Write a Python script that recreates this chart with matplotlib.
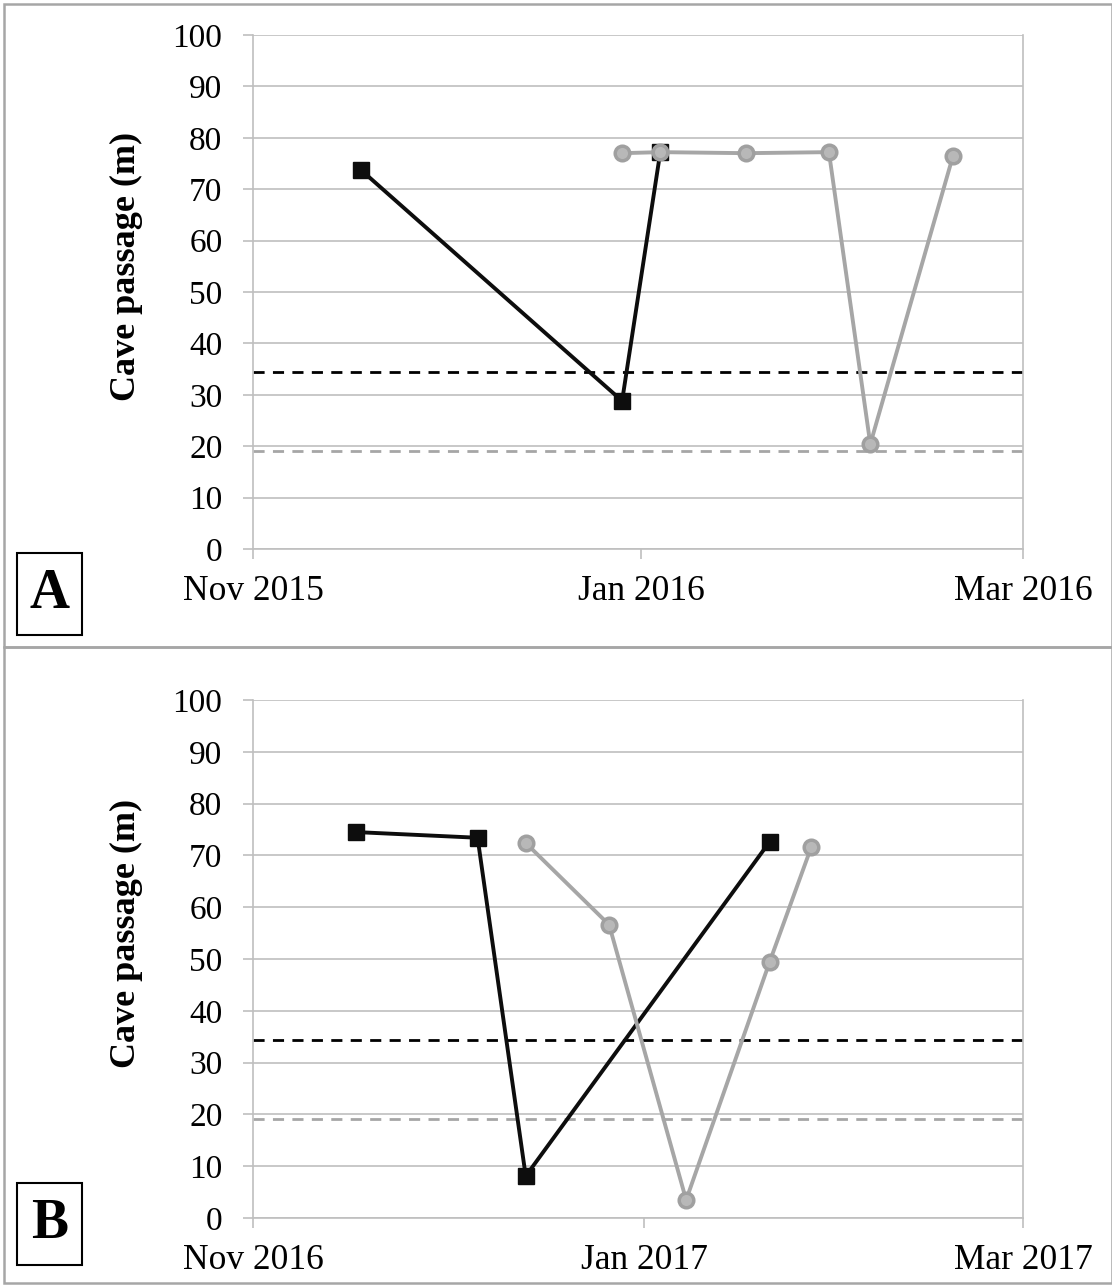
import pandas as pd
import matplotlib
matplotlib.use("Agg")
import matplotlib.pyplot as plt
import matplotlib.dates as mdates
from matplotlib.patches import Rectangle

plt.rcParams['font.family'] = ['Liberation Serif', 'DejaVu Serif']

# panel A (winter 2015/16)
a_black_dates = ['2015-11-18', '2015-12-29', '2016-01-04']
a_black_vals = [73.7, 28.8, 77.2]
a_gray_dates = ['2015-12-29', '2016-01-04', '2016-01-17 12:00', '2016-01-30 12:00', '2016-02-06', '2016-02-19']
a_gray_vals = [77.0, 77.2, 77.0, 77.2, 20.4, 76.5]
a_ticks = ['2015-11-01', '2016-01-01', '2016-03-01']

# panel B (winter 2016/17)
b_black_dates = ['2016-11-17', '2016-12-06', '2016-12-13 12:00', '2017-01-20 12:00']
b_black_vals = [74.5, 73.4, 8.1, 72.6]
b_gray_dates = ['2016-12-13 12:00', '2016-12-26 12:00', '2017-01-07 12:00', '2017-01-20 12:00', '2017-01-27']
b_gray_vals = [72.4, 56.6, 3.5, 49.4, 71.6]
b_ticks = ['2016-11-01', '2017-01-01', '2017-03-01']

# threshold lines
black_thresh = 34.4
gray_thresh = 19.1

grid_col = '#bfbfbf'
gray_col = '#a6a6a6'


def to_dt(vals):
    return pd.to_datetime(vals, format='mixed')


def draw_panel(ax, black_d, black_v, gray_d, gray_v, ticks):
    ticks = to_dt(ticks)
    ax.axhline(black_thresh, color='black', lw=2, ls=(0, (4, 3)), zorder=2)
    ax.axhline(gray_thresh, color=gray_col, lw=2, ls=(0, (4, 3)), zorder=2)
    ax.plot(to_dt(black_d), black_v, color='#0d0d0d', lw=2.8, marker='s',
            markersize=12, markerfacecolor='#0d0d0d', markeredgecolor='#0d0d0d', zorder=3)
    ax.plot(to_dt(gray_d), gray_v, color=gray_col, lw=2.8, marker='o',
            markersize=10.5, markerfacecolor='#b8b8b8', markeredgecolor='#a0a0a0',
            markeredgewidth=2.5, zorder=4)

    ax.set_xlim(ticks[0], ticks[-1])
    ax.set_ylim(0, 100)
    ax.set_yticks(range(0, 101, 10))
    ax.set_xticks(ticks)
    ax.xaxis.set_major_formatter(mdates.DateFormatter('%b %Y'))
    ax.grid(axis='y', color=grid_col, lw=1.2, zorder=1)
    for s in ['left', 'right', 'bottom']:
        ax.spines[s].set_color(grid_col)
        ax.spines[s].set_linewidth(1.2)
    ax.spines['top'].set_visible(False)
    ax.tick_params(axis='y', length=7, width=1.2, color=grid_col, pad=15, labelsize=24)
    ax.tick_params(axis='x', length=7, width=1.2, color=grid_col, pad=12, labelsize=25.5)
    ax.set_ylabel('Cave passage (m)', fontsize=26, fontweight='bold')
    ax.yaxis.set_label_coords(-0.143, 0.55)


fig = plt.figure(figsize=(11.12, 12.85), dpi=100)
ax_a = fig.add_axes([0.2275, 0.5728, 0.6925, 0.400])
ax_b = fig.add_axes([0.2275, 0.0521, 0.6925, 0.4032])

draw_panel(ax_a, a_black_dates, a_black_vals, a_gray_dates, a_gray_vals, a_ticks)
draw_panel(ax_b, b_black_dates, b_black_vals, b_gray_dates, b_gray_vals, b_ticks)

# letter boxes at lower left of each panel
for letter, yc in [('A', 0.5377), ('B', 0.0475)]:
    fig.add_artist(Rectangle((0.0153, yc - 0.0319), 0.0585, 0.0638, transform=fig.transFigure,
                             fill=True, facecolor='white', edgecolor='black', lw=1.5))
    fig.text(0.0445, yc, letter, fontsize=40, fontweight='bold', ha='center', va='center')

# outer frames of the two panels
fig.add_artist(Rectangle((0.0036, 0.4965), 0.996, 0.5004, transform=fig.transFigure,
                         fill=False, edgecolor=gray_col, lw=1.8))
fig.add_artist(Rectangle((0.0036, 0.0015), 0.996, 0.495, transform=fig.transFigure,
                         fill=False, edgecolor=gray_col, lw=1.8))

fig.savefig('out.png', dpi=100)
